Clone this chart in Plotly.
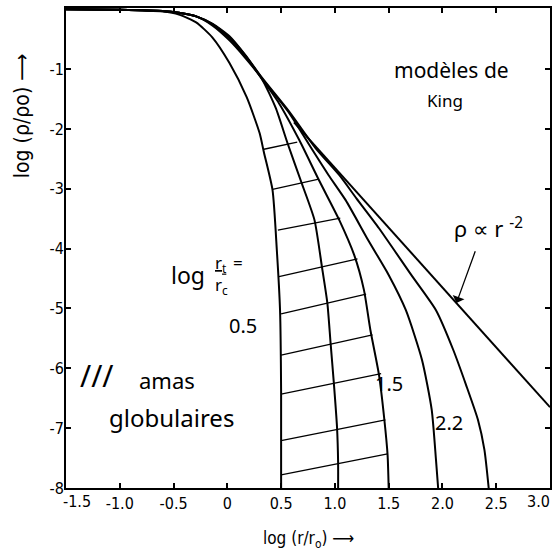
import plotly.graph_objects as go

# ---------------- data ----------------
# King models, log(rt/rc) = 0.5, 1.0, 1.5, 2.0, 2.5
c05_x = [-1.5, -1.0, -0.6, -0.45, -0.29, -0.14, 0.02, 0.18, 0.30, 0.34, 0.42, 0.46, 0.49, 0.50, 0.50]
c05_y = [0.0, -0.01, -0.04, -0.09, -0.22, -0.47, -0.90, -1.47, -2.07, -2.39, -3.02, -4.02, -5.03, -6.41, -8.0]

c10_x = [-1.5, -1.0, -0.6, -0.45, -0.29, -0.14, 0.02, 0.17, 0.32, 0.45, 0.56, 0.69, 0.81, 0.88, 0.93, 0.96, 0.99, 1.02, 1.03, 1.03]
c10_y = [0.0, -0.01, -0.03, -0.06, -0.12, -0.27, -0.52, -0.82, -1.16, -1.65, -2.24, -2.90, -3.52, -4.31, -4.91, -5.58, -6.24, -6.99, -7.58, -8.0]

c15_x = [-1.5, -1.0, -0.6, -0.45, -0.29, -0.14, 0.02, 0.17, 0.32, 0.48, 0.67, 0.85, 1.04, 1.18, 1.27, 1.33, 1.41, 1.46, 1.49, 1.50]
c15_y = [0.0, -0.01, -0.03, -0.06, -0.12, -0.25, -0.48, -0.79, -1.16, -1.57, -2.19, -2.85, -3.52, -4.11, -4.69, -5.36, -6.11, -6.86, -7.45, -8.0]

c20_x = [-1.5, -1.0, -0.6, -0.45, -0.29, -0.14, 0.02, 0.17, 0.32, 0.57, 0.78, 0.94, 1.10, 1.31, 1.50, 1.66, 1.81, 1.90, 1.94, 1.96]
c20_y = [0.0, -0.01, -0.03, -0.06, -0.12, -0.25, -0.47, -0.78, -1.15, -1.72, -2.32, -2.77, -3.19, -3.86, -4.44, -5.03, -5.86, -6.69, -7.53, -8.0]

c25_x = [-1.5, -1.0, -0.6, -0.45, -0.29, -0.14, 0.02, 0.17, 0.32, 0.57, 0.82, 1.04, 1.20, 1.41, 1.71, 1.94, 2.10, 2.22, 2.33, 2.39, 2.43]
c25_y = [0.0, -0.01, -0.03, -0.06, -0.12, -0.24, -0.45, -0.77, -1.14, -1.70, -2.32, -2.77, -3.16, -3.66, -4.44, -5.03, -5.69, -6.28, -6.86, -7.36, -8.0]

# rho ∝ r^-2 asymptote
pow_x = [0.62, 3.0]
pow_y = [-1.89, -6.65]

# hatching of the globular cluster region
hatch_x0 = [0.34, 0.42, 0.47, 0.48, 0.50, 0.50, 0.50, 0.50, 0.50]
hatch_y0 = [-2.34, -3.01, -3.69, -4.47, -5.09, -5.78, -6.43, -7.21, -7.78]
hatch_x1 = [0.65, 0.85, 1.05, 1.21, 1.29, 1.35, 1.43, 1.47, 1.49]
hatch_y1 = [-2.22, -2.84, -3.49, -4.17, -4.76, -5.44, -6.09, -6.86, -7.43]

x_ticks = [-1.5, -1.0, -0.5, 0, 0.5, 1.0, 1.5, 2.0, 2.5, 3.0]
x_tick_text = ["", "-1.0", "-0.5", "0", "0.5", "1.0", "1.5", "2.0", "2.5", ""]
first_x_label = "-1.5"
last_x_label = "3.0"
y_ticks = [-1, -2, -3, -4, -5, -6, -7, -8]
y_tick_text = ["-1", "-2", "-3", "-4", "-5", "-6", "-7", "-8"]

# ---------------- figure ----------------
INK = "#000000"
FONT = "Liberation Sans Narrow, DejaVu Sans Condensed, Liberation Sans, sans-serif"
HAND = "Noto Sans, DejaVu Sans, sans-serif"

fig = go.Figure()

for cx, cy in [(c05_x, c05_y), (c10_x, c10_y), (c15_x, c15_y), (c20_x, c20_y), (c25_x, c25_y)]:
    fig.add_trace(go.Scatter(x=cx, y=cy, mode="lines", line=dict(color=INK, width=2, shape="spline", smoothing=0.6),
                             hoverinfo="skip", showlegend=False))

fig.add_trace(go.Scatter(x=pow_x, y=pow_y, mode="lines", line=dict(color=INK, width=2),
                         hoverinfo="skip", showlegend=False))

hx, hy = [], []
for a, b, c, d in zip(hatch_x0, hatch_y0, hatch_x1, hatch_y1):
    hx += [a, c, None]
    hy += [b, d, None]
fig.add_trace(go.Scatter(x=hx, y=hy, mode="lines", line=dict(color=INK, width=1.3),
                         hoverinfo="skip", showlegend=False))

ann = []
def txt(x, y, s, size, font=HAND, **kw):
    ann.append(dict(x=x, y=y, xref="x", yref="y", text=s, showarrow=False,
                    xanchor="center", yanchor="middle",
                    font=dict(size=size, color=INK, family=font), **kw))

txt(2.08, -1.02, "modèles de", 21)
txt(2.02, -1.52, "King", 17)
txt(2.43, -3.64, "ρ ∝ r <sup>-2</sup>", 22)
txt(-0.37, -4.44, "log", 23)
txt(-0.06, -4.25, "<u>r<sub>t</sub></u>", 17)
txt(0.10, -4.23, "=", 17)
txt(-0.05, -4.62, "r<sub>c</sub>", 17)
txt(0.15, -5.29, "0.5", 20)
txt(1.50, -6.26, "1.5", 20)
txt(2.06, -6.91, "2.2", 20)
txt(-1.22, -6.12, "///", 30)
txt(-0.56, -6.20, "amas", 22)
txt(-0.52, -6.83, "globulaires", 24)

# arrow to the asymptote
ann.append(dict(x=2.13, y=-4.91, ax=2.31, ay=-4.02, xref="x", yref="y", axref="x", ayref="y",
                text="", showarrow=True, arrowhead=1, arrowsize=1.6, arrowwidth=1.3, arrowcolor=INK))

# end x tick labels (drawn a little inside, as in the original)
for xv, lab in [(-1.40, first_x_label), (2.89, last_x_label)]:
    ann.append(dict(x=xv, y=-0.029, xref="x", yref="paper", text=lab, showarrow=False,
                    xanchor="center", yanchor="middle", font=dict(size=16, color=INK, family=FONT)))

# axis titles
ann.append(dict(x=-0.0905, y=0.775, xref="paper", yref="paper", text="log (ρ/ρo) ⟶", textangle=-90,
                xanchor="center", yanchor="middle",
                showarrow=False, font=dict(size=21, color=INK, family=FONT)))
ann.append(dict(x=0.502, y=-0.108, xref="paper", yref="paper", text="log (r/r<sub>o</sub>) ⟶",
                xanchor="center", yanchor="middle",
                showarrow=False, font=dict(size=17, color=INK, family=FONT)))

axis_common = dict(showgrid=False, zeroline=False, showline=True, linecolor=INK, linewidth=2,
                   mirror="allticks", ticks="inside", ticklen=5, tickwidth=1.5, tickcolor=INK,
                   tickfont=dict(size=16, color=INK, family=FONT))

fig.update_layout(
    width=555, height=555,
    margin=dict(l=66, r=3, t=8, b=67),
    paper_bgcolor="white", plot_bgcolor="white",
    xaxis=dict(range=[-1.5, 3.0], tickvals=x_ticks, ticktext=x_tick_text, **axis_common),
    yaxis=dict(range=[-8.0, 0.02], tickvals=y_ticks, ticktext=y_tick_text, ticklabelstandoff=-3, **axis_common),
    annotations=ann,
    showlegend=False,
)

fig.write_html("out.html", config={"displayModeBar": False},
               post_script="document.body.style.margin='0px';document.body.style.overflow='hidden';")
